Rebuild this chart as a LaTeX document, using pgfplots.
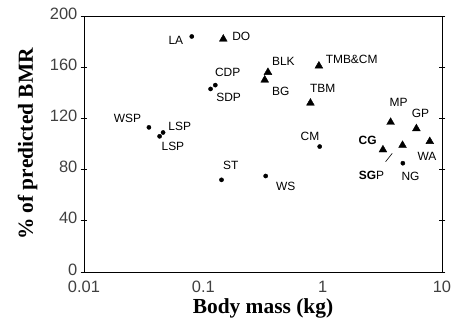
\documentclass[border=0pt]{standalone}
\usepackage{pgfplots}
\pgfplotsset{compat=1.18}
\usepackage{fontspec}
\setmainfont{Liberation Serif}
\newfontfamily\lab{Liberation Sans}
\begin{document}
\begin{tikzpicture}
\begin{axis}[
  scale only axis,
  width=358bp, height=256bp,
  xmode=log,
  xmin=0.01, xmax=10,
  ymin=0, ymax=200,
  xtick={0.01,0.1,1,10},
  xticklabels={0.01,0.1,1,10},
  ytick={0,40,80,120,160,200},
  minor tick num=0,
  minor xtick={},
  axis line style={line width=0.8bp},
  every tick/.style={line width=0.8bp, black},
  tick align=center,
  major tick length=7bp,
  xtick style={draw=none},
  /pgf/number format/assume math mode=true,
  tick label style={font=\fontsize{16.5}{18}\lab\selectfont, color=black!75, inner sep=0bp},
  xticklabel style={yshift=-5bp},
  yticklabel style={xshift=-3bp, yshift=2.5bp},
  log ticks with fixed point,
  xlabel={\textbf{Body mass (kg)}},
  ylabel={\textbf{\% of predicted BMR}},
  label style={font=\fontsize{21.5}{23}\selectfont},
  xlabel style={yshift=-3bp},
  ylabel style={yshift=9bp},
  clip=false,
]
% circles
\addplot[only marks, mark=*, mark size=2.1bp, black] coordinates {
 (0.080,184) (0.126,146) (0.115,143) (0.035,113) (0.046,109) (0.043,106)
 (0.142,72) (0.333,75) (0.944,98) (4.7,85)
};
% triangles
\addplot[only marks, mark=triangle*, mark size=4.5bp, black] coordinates {
 (0.147,182) (0.348,156) (0.327,150) (0.93,161) (0.79,132)
 (3.71,117) (6.1,112) (7.9,102) (3.2,95.5) (4.67,99)
};
\draw[line width=0.6bp] (axis cs:3.37,86.2) -- (axis cs:3.83,92.7);
\begin{scope}[every node/.style={font=\fontsize{12}{14}\lab\selectfont, inner sep=0pt}]
\node at (axis cs:0.0589,181.3) {LA};
\node at (axis cs:0.208,183.8) {DO};
\node at (axis cs:0.160,155.7) {CDP};
\node at (axis cs:0.163,136.2) {SDP};
\node at (axis cs:0.0231,120.3) {WSP};
\node at (axis cs:0.0635,114.1) {LSP};
\node at (axis cs:0.0556,97.9) {LSP};
\node at (axis cs:0.469,164.3) {BLK};
\node at (axis cs:0.446,140.9) {BG};
\node at (axis cs:1.75,166.2) {TMB\&CM};
\node at (axis cs:1.0,143.5) {TBM};
\node at (axis cs:0.783,105.7) {CM};
\node at (axis cs:4.33,132.3) {MP};
\node at (axis cs:6.61,124) {GP};
\node at (axis cs:2.38,103.1) {\textbf{CG}};
\node at (axis cs:7.49,90.1) {WA};
\node at (axis cs:2.57,75.8) {\textbf{SG}P};
\node at (axis cs:5.45,75) {NG};
\node at (axis cs:0.490,66.6) {WS};
\node at (axis cs:0.170,83.6) {ST};
\end{scope}
\end{axis}
\pgfresetboundingbox
\path (current axis.south west) ++(-84bp,-53bp) rectangle ++(454bp,325bp);
\end{tikzpicture}
\end{document}
